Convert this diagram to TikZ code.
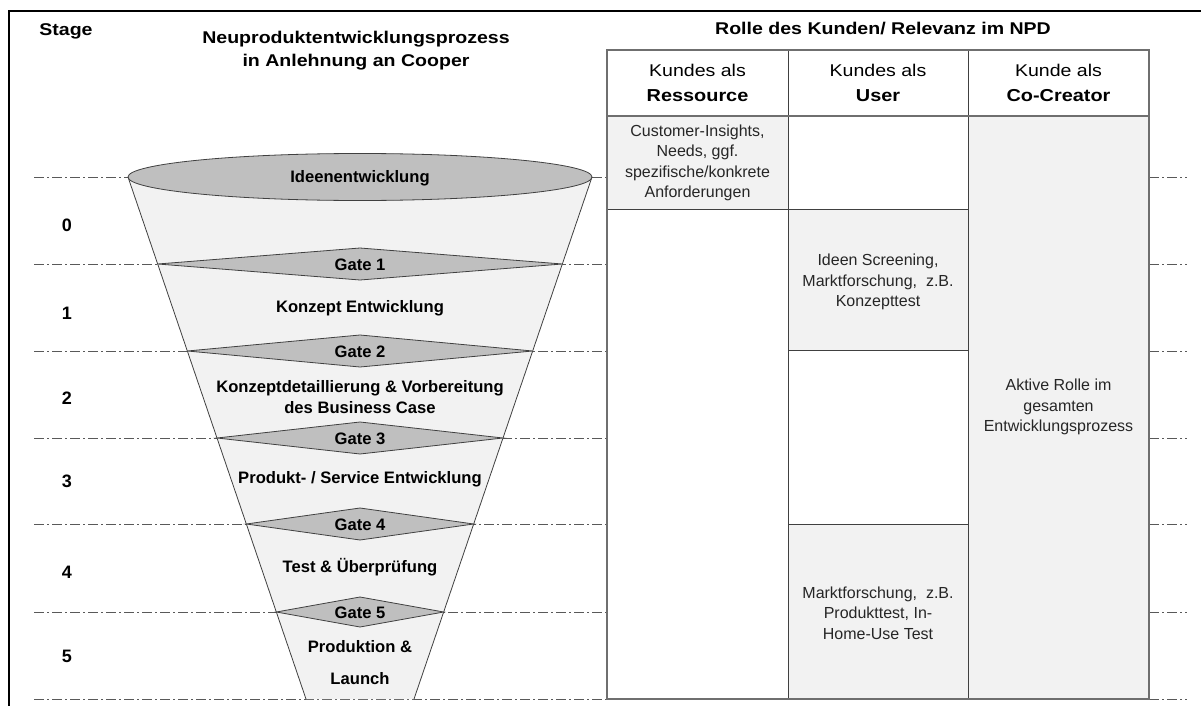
\documentclass[tikz,border=0pt]{standalone}
\usepackage{fontspec}
\setmainfont{Liberation Sans}
\newfontfamily\hfont[FakeStretch=1.15]{Liberation Sans}
\definecolor{lightfill}{HTML}{F2F2F2}
\definecolor{midfill}{HTML}{BFBFBF}
\definecolor{edgecol}{HTML}{404040}
\definecolor{dashcol}{HTML}{595959}
\definecolor{outercol}{HTML}{6F6F6F}
\definecolor{celltxt}{HTML}{262626}
\begin{document}
\begin{tikzpicture}[x=1pt,y=-1pt,
  stagelevel/.style={draw=dashcol, line width=0.9pt, dash pattern=on 10pt off 3pt on 2pt off 3pt},
  funnelline/.style={draw=edgecol, line width=0.8pt},
  gatebox/.style={fill=midfill, draw=edgecol, line width=0.8pt},
  flabel/.style={font=\fontsize{16.6}{19}\selectfont\bfseries, align=center, inner sep=0pt},
  stagenum/.style={font=\fontsize{18}{21}\selectfont\bfseries, inner sep=0pt},
  heading/.style={font=\hfont\fontsize{17}{22}\selectfont\bfseries, inner sep=0pt, anchor=base},
  headreg/.style={font=\hfont\fontsize{17}{22}\selectfont, inner sep=0pt, anchor=base},
  headbold/.style={font=\hfont\fontsize{17.3}{22}\selectfont\bfseries, inner sep=0pt, anchor=base},
  celltext/.style={font=\fontsize{16}{20.3}\selectfont, align=center, inner sep=0pt, text=celltxt},
  innerline/.style={draw=edgecol, line width=0.9pt},
  outerline/.style={draw=outercol, line width=1.6pt}
]
\useasboundingbox (0,0) rectangle (1201,706);

% frame
\draw[line width=1.5pt] (9,706) -- (9,11) -- (1201,11);

% stage level lines
\foreach \yy in {177,264,351,438,524,612,699}{
  \draw[stagelevel] (34,\yy) -- (607,\yy);
  \draw[stagelevel] (1149,\yy) -- (1187,\yy);
}

% funnel body
\fill[lightfill] (128,177) -- (592,177) -- (414,699) -- (306,699) -- cycle;
\draw[funnelline] (128,177) -- (306,699);
\draw[funnelline] (592,177) -- (414,699);

% top ellipse
\draw[gatebox] (360,177) ellipse [x radius=232, y radius=23.5];

% gates
\draw[gatebox] (157.7,264) -- (360,248) -- (562.3,264) -- (360,280) -- cycle;
\draw[gatebox] (187.3,351) -- (360,335) -- (532.7,351) -- (360,367) -- cycle;
\draw[gatebox] (217,438) -- (360,422) -- (503,438) -- (360,454) -- cycle;
\draw[gatebox] (246.3,524) -- (360,508) -- (473.7,524) -- (360,540) -- cycle;
\draw[gatebox] (276.3,612) -- (360,597) -- (443.7,612) -- (360,627) -- cycle;

% funnel labels
\node[flabel] (ideen) at (360,178) {Ideenentwicklung};
\node[flabel] (g1) at (360,265) {Gate 1};
\node[flabel] (s1) at (360,308) {Konzept Entwicklung};
\node[flabel] (g2) at (360,352) {Gate 2};
\node[flabel, font=\fontsize{16.6}{21.5}\selectfont\bfseries] (s2) at (360,397) {Konzeptdetaillierung \& Vorbereitung\\des Business Case};
\node[flabel] (g3) at (360,439) {Gate 3};
\node[flabel] (s3) at (360,479) {Produkt- / Service Entwicklung};
\node[flabel] (g4) at (360,525) {Gate 4};
\node[flabel] (s4) at (360,567) {Test \& Überprüfung};
\node[flabel] (g5) at (360,613) {Gate 5};
\node[flabel, font=\fontsize{16.6}{32}\selectfont\bfseries] (s5) at (360,663) {Produktion \&\\Launch};

% stage numbers
\node[heading] (stage) at (66,36) {Stage};
\node[stagenum] (n0) at (67,225) {0};
\node[stagenum] (n1) at (67,313) {1};
\node[stagenum] (n2) at (67,398) {2};
\node[stagenum] (n3) at (67,481) {3};
\node[stagenum] (n4) at (67,572) {4};
\node[stagenum] (n5) at (67,656) {5};

% headings
\node[heading] (t1) at (356,44) {Neuproduktentwicklungsprozess};
\node[heading] (t2) at (356,66.7) {in Anlehnung an Cooper};
\node[heading] (t3) at (883,35) {Rolle des Kunden/ Relevanz im NPD};

% table fills
\fill[lightfill] (607,116) rectangle (788,209);
\fill[lightfill] (788,209) rectangle (968,350);
\fill[lightfill] (788,524) rectangle (968,699);
\fill[lightfill] (968,116) rectangle (1149,699);
% table lines
\draw[innerline] (788,50) -- (788,699);
\draw[innerline] (968,50) -- (968,699);
\draw[innerline] (607,209) -- (968,209);
\draw[innerline] (788,350) -- (968,350);
\draw[innerline] (788,524) -- (968,524);
\draw[outerline] (607,116) -- (1149,116);
\draw[outerline] (607,50) rectangle (1149,699);

% header texts
\node[headreg] (h1a) at (697.5,77) {Kundes als};
\node[headbold] (h1b) at (697.5,101.7) {Ressource};
\node[headreg] (h2a) at (878,77) {Kundes als};
\node[headbold] (h2b) at (878,101.7) {User};
\node[headreg] (h3a) at (1058.5,77) {Kunde als};
\node[headbold] (h3b) at (1058.5,101.7) {Co-Creator};

% cell texts
\node[celltext] (c1) at (697.5,163) {Customer-Insights,\\Needs, ggf.\\spezifische/konkrete\\Anforderungen};
\node[celltext] (c2) at (878,282) {Ideen Screening,\\Marktforschung,\ \ z.B.\\Konzepttest};
\node[celltext] (c3) at (878,613) {Marktforschung,\ \ z.B.\\Produkttest, In-\\Home-Use Test};
\node[celltext] (c4) at (1058.5,407) {Aktive Rolle im\\gesamten\\Entwicklungsprozess};
\end{tikzpicture}
\end{document}
